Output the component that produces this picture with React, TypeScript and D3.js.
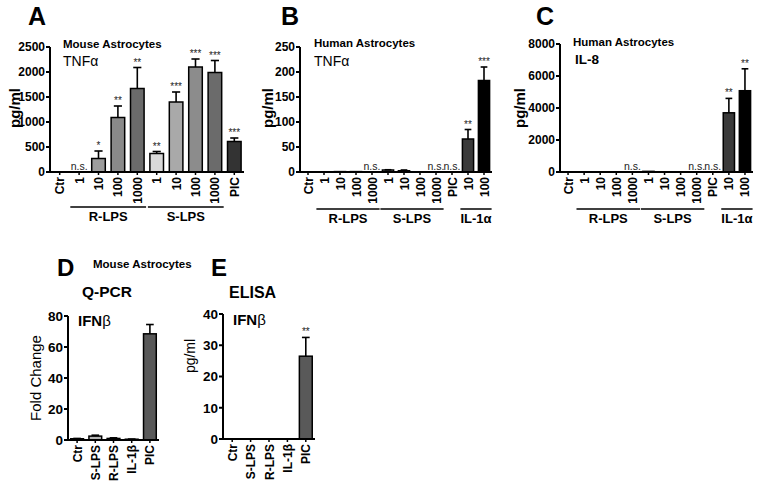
import React from 'react';
import * as d3 from 'd3';

// panel A - mouse astrocytes, TNFa
const idsA = ['Ctr', 'R1', 'R10', 'R100', 'R1000', 'S1', 'S10', 'S100', 'S1000', 'PIC'];
const labelsA = ['Ctr', '1', '10', '100', '1000', '1', '10', '100', '1000', 'PIC'];
const meanA = [0, 0, 270, 1090, 1670, 370, 1400, 2100, 1990, 610];
const errA = [0, 0, 150, 230, 420, 40, 200, 160, 240, 70];
const sigA = ['', 'n.s.', '*', '**', '**', '**', '***', '***', '***', '***'];
const ticksA = [0, 500, 1000, 1500, 2000, 2500];

// panel B - human astrocytes, TNFa
const idsB = ['Ctr', 'R1', 'R10', 'R100', 'R1000', 'S1', 'S10', 'S100', 'S1000', 'PIC', 'IL10', 'IL100'];
const labelsB = ['Ctr', '1', '10', '100', '1000', '1', '10', '100', '1000', 'PIC', '10', '100'];
const meanB = [0, 0, 0.8, 0.8, 0, 4, 2.5, 0.5, 0, 0, 66, 183];
const errB = [0, 0, 0, 0, 0, 0.5, 1.5, 0, 0, 0, 19, 27];
const sigB = ['', '', '', '', 'n.s.', '', '', '', 'n.s.', 'n.s.', '**', '***'];
const ticksB = [0, 50, 100, 150, 200, 250];

// panel C - human astrocytes, IL-8
const meanC = [0, 0, 0, 0, 0, 40, 0, 0, 0, 0, 3700, 5080];
const errC = [0, 0, 0, 0, 0, 0, 0, 0, 0, 0, 900, 1370];
const sigC = ['', '', '', '', 'n.s.', '', '', '', 'n.s.', 'n.s.', '**', '**'];
const ticksC = [0, 2000, 4000, 6000, 8000];

// panel D / E - IFNb
const idsDE = ['Ctr', 'S-LPS', 'R-LPS', 'IL-1β', 'PIC'];
const meanD = [0.8, 2.5, 1, 0.5, 68.5];
const errD = [0.2, 0.6, 0.4, 0.1, 6];
const sigD = ['', '', '', '', ''];
const ticksD = [0, 20, 40, 60, 80];
const meanE = [0, 0, 0, 0, 26.5];
const errE = [0, 0, 0, 0, 6];
const sigE = ['', '', '', '', '**'];
const ticksE = [0, 10, 20, 30, 40];

const FONT = 'Liberation Sans, Arial, Helvetica, sans-serif';

type Group = { name: string; from: string; to: string };
type PanelProps = {
  ids: string[];
  labels: string[];
  values: number[];
  errs: number[];
  sig: string[];
  fills: string[];
  ticks: number[];
  x0: number;
  x1: number;
  yTop: number;
  yBottom: number;
  tickSize?: number;
  groups?: Group[];
  groupY?: number;
};

const Panel = ({ ids, labels, values, errs, sig, fills, ticks, x0, x1, yTop, yBottom, tickSize = 12, groups = [], groupY = 208 }: PanelProps) => {
  const x = d3.scaleBand().domain(ids).range([x0, x1]).paddingInner(0.3).paddingOuter(0.15);
  const y = d3.scaleLinear().domain([0, ticks[ticks.length - 1]]).range([yBottom, yTop]);
  const bw = x.bandwidth();
  return (
    <g>
      {ids.map((id, i) => {
        const cx = (x(id) as number) + bw / 2;
        const top = y(values[i]);
        const etop = y(values[i] + errs[i]);
        return (
          <g key={id}>
            {values[i] > 0 && (
              <rect x={x(id)} y={top} width={bw} height={yBottom - top} fill={fills[i]} stroke="#000" strokeWidth={1.5} />
            )}
            {errs[i] > 0 && (
              <g stroke="#000" strokeWidth={1.6}>
                <line x1={cx} x2={cx} y1={top} y2={etop} />
                <line x1={cx - bw * 0.3} x2={cx + bw * 0.3} y1={etop} y2={etop} />
              </g>
            )}
            {sig[i] && (
              <text x={cx} y={Math.min(etop, top) - 2} textAnchor="middle" fontSize={sig[i] === 'n.s.' ? 10.5 : 10} fill="#222">
                {sig[i]}
              </text>
            )}
            <line x1={cx} x2={cx} y1={yBottom} y2={yBottom + 3} stroke="#000" strokeWidth={1.5} />
            <text
              transform={`translate(${cx + 4.5},${yBottom + 5}) rotate(-90)`}
              textAnchor="end"
              fontSize={12}
              fontWeight="bold"
            >
              {labels[i]}
            </text>
          </g>
        );
      })}
      <line x1={x0} x2={x1} y1={yBottom} y2={yBottom} stroke="#000" strokeWidth={2} />
      <line x1={x0} x2={x0} y1={yTop} y2={yBottom + 1} stroke="#000" strokeWidth={2} />
      {ticks.map((t) => (
        <g key={t}>
          <line x1={x0 - 4} x2={x0} y1={y(t)} y2={y(t)} stroke="#000" strokeWidth={2} />
          <text x={x0 - 5} y={y(t) + tickSize * 0.36} textAnchor="end" fontSize={tickSize} fontWeight="bold">
            {t}
          </text>
        </g>
      ))}
      {groups.map((g) => {
        const a = x(g.from) as number;
        const b = (x(g.to) as number) + bw;
        return (
          <g key={g.name}>
            <line x1={a - 2} x2={b + 2} y1={groupY} y2={groupY} stroke="#000" strokeWidth={1.5} />
            <text x={(a + b) / 2} y={groupY + 14} textAnchor="middle" fontSize={13} fontWeight="bold">
              {g.name}
            </text>
          </g>
        );
      })}
    </g>
  );
};

const App = () => {
  const greysA = ['#fff', '#fff', '#9d9d9d', '#8a8a8a', '#6b6b6b', '#d9d9d9', '#a9a9a9', '#8c8c8c', '#6b6b6b', '#333'];
  const greysBC = ['#fff', '#fff', '#999', '#999', '#999', '#bbb', '#999', '#999', '#999', '#999', '#3a3a3a', '#000'];
  const greysDE = ['#888', '#b5b5b5', '#888', '#888', '#595959'];
  const lpsGroups = [
    { name: 'R-LPS', from: 'R1', to: 'R1000' },
    { name: 'S-LPS', from: 'S1', to: 'S1000' },
  ];
  return (
    <svg width={762} height={485} style={{ display: 'block', position: 'absolute', left: 0, top: 0, background: '#fff' }} fontFamily={FONT}>
      {/* A */}
      <text x={28} y={25} fontSize={25} fontWeight="bold">A</text>
      <text x={63} y={48} fontSize={11.5} fontWeight="bold">Mouse Astrocytes</text>
      <text x={63} y={66} fontSize={14}>TNFα</text>
      <text transform="translate(20,108) rotate(-90)" textAnchor="middle" fontSize={15} fontWeight="bold">pg/ml</text>
      <Panel ids={idsA} labels={labelsA} values={meanA} errs={errA} sig={sigA} fills={greysA} ticks={ticksA}
        x0={50} x1={244} yTop={47} yBottom={172} groups={lpsGroups} groupY={207} />

      {/* B */}
      <text x={281} y={25} fontSize={25} fontWeight="bold">B</text>
      <text x={314} y={47} fontSize={11.5} fontWeight="bold">Human Astrocytes</text>
      <text x={314} y={66} fontSize={14}>TNFα</text>
      <text transform="translate(273,108) rotate(-90)" textAnchor="middle" fontSize={15} fontWeight="bold">pg/ml</text>
      <Panel ids={idsB} labels={labelsB} values={meanB} errs={errB} sig={sigB} fills={greysBC} ticks={ticksB}
        x0={300} x1={492} yTop={47} yBottom={172}
        groups={[...lpsGroups, { name: 'IL-1α', from: 'IL10', to: 'IL100' }]} groupY={209} />

      {/* C */}
      <text x={536} y={25} fontSize={25} fontWeight="bold">C</text>
      <text x={573} y={46} fontSize={11.5} fontWeight="bold">Human Astrocytes</text>
      <text x={575} y={64} fontSize={13.5} fontWeight="bold">IL-8</text>
      <text transform="translate(525,108) rotate(-90)" textAnchor="middle" fontSize={15} fontWeight="bold">pg/ml</text>
      <Panel ids={idsB} labels={labelsB} values={meanC} errs={errC} sig={sigC} fills={greysBC} ticks={ticksC}
        x0={560} x1={753} yTop={44} yBottom={172}
        groups={[...lpsGroups, { name: 'IL-1α', from: 'IL10', to: 'IL100' }]} groupY={209} />

      {/* D */}
      <text x={57} y={276} fontSize={24} fontWeight="bold">D</text>
      <text x={93} y={268} fontSize={11.5} fontWeight="bold">Mouse Astrocytes</text>
      <text x={82} y={297} fontSize={15.5} fontWeight="bold">Q-PCR</text>
      <text x={78} y={326} fontSize={15} fontWeight="bold">IFN<tspan fontWeight="normal">β</tspan></text>
      <text transform="translate(41,378) rotate(-90)" textAnchor="middle" fontSize={15}>Fold Change</text>
      <Panel ids={idsDE} labels={idsDE} values={meanD} errs={errD} sig={sigD} fills={greysDE} ticks={ticksD}
        x0={68} x1={159} yTop={316} yBottom={440} tickSize={13.5} />

      {/* E */}
      <text x={211} y={276} fontSize={24} fontWeight="bold">E</text>
      <text x={229} y={298} fontSize={16} fontWeight="bold">ELISA</text>
      <text x={233} y={325} fontSize={15} fontWeight="bold">IFN<tspan fontWeight="normal">β</tspan></text>
      <text transform="translate(195,356) rotate(-90)" textAnchor="middle" fontSize={14}>pg/ml</text>
      <Panel ids={idsDE} labels={idsDE} values={meanE} errs={errE} sig={sigE} fills={greysDE} ticks={ticksE}
        x0={223} x1={315} yTop={314} yBottom={439} tickSize={13.5} />
    </svg>
  );
};

export default App;
